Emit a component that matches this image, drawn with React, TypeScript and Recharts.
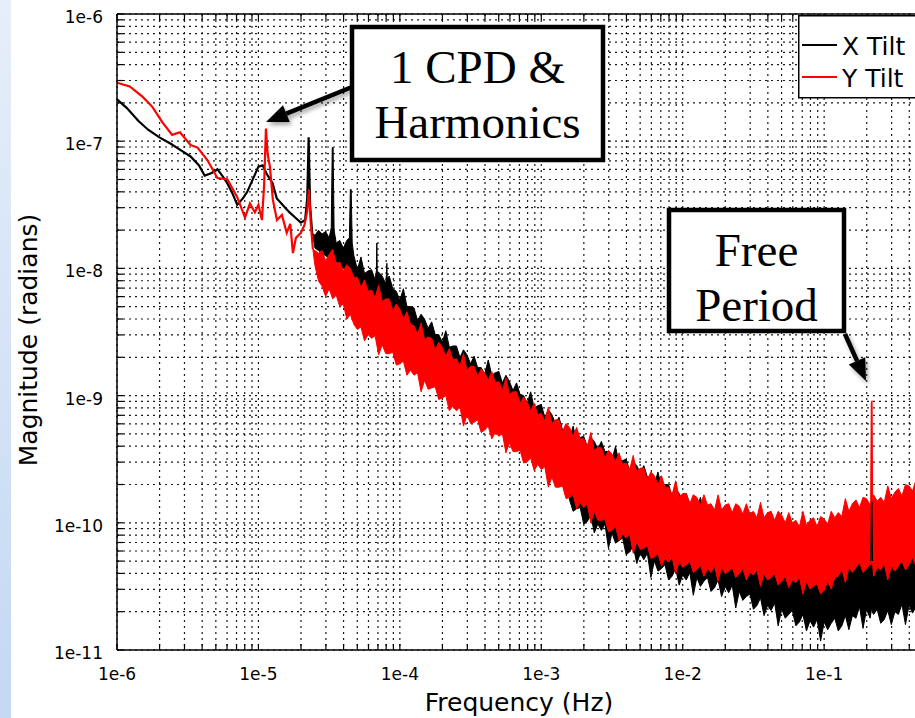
import React from 'react';
import { ComposedChart, Line, Area, XAxis, YAxis, CartesianGrid, Legend } from 'recharts';

// Low-frequency part of each spectrum: [log10 f (Hz), log10 magnitude (rad)]
const xTiltLow: [number, number][] = [
  [-6.0, -6.67], [-5.93, -6.74], [-5.85, -6.84], [-5.78, -6.91], [-5.7, -6.97], [-5.62, -7.02],
  [-5.55, -7.07], [-5.48, -7.12], [-5.42, -7.19], [-5.38, -7.27], [-5.33, -7.25], [-5.29, -7.22],
  [-5.25, -7.28], [-5.22, -7.33], [-5.18, -7.42], [-5.15, -7.5], [-5.11, -7.45], [-5.08, -7.4],
  [-5.04, -7.3], [-5.0, -7.2], [-4.97, -7.19], [-4.94, -7.26], [-4.9, -7.33], [-4.87, -7.45],
  [-4.83, -7.5], [-4.78, -7.56], [-4.74, -7.6], [-4.7, -7.64], [-4.67, -7.62], [-4.655, -7.45],
  [-4.645, -6.97], [-4.635, -7.5], [-4.62, -7.72],
];

const yTiltLow: [number, number][] = [
  [-6.0, -6.54], [-5.91, -6.57], [-5.82, -6.65], [-5.75, -6.73], [-5.68, -6.85], [-5.61, -6.95],
  [-5.555, -6.93], [-5.48, -7.03], [-5.43, -7.05], [-5.36, -7.15], [-5.29, -7.29], [-5.22, -7.3],
  [-5.15, -7.44], [-5.095, -7.6], [-5.06, -7.49], [-5.025, -7.56], [-5.0, -7.5], [-4.975, -7.62],
  [-4.96, -7.35], [-4.947, -6.9], [-4.935, -7.1], [-4.919, -7.2], [-4.898, -7.46], [-4.869, -7.62],
  [-4.834, -7.58], [-4.8, -7.72], [-4.775, -7.65], [-4.756, -7.88], [-4.735, -7.76], [-4.7, -7.72],
  [-4.675, -7.66], [-4.655, -7.55], [-4.643, -7.38], [-4.63, -7.65], [-4.615, -7.85],
];

// Past the 2 CPD line the traces turn into a dense noise band:
// [log10 f, log10 lower edge, log10 upper edge]
const xTiltBand: [number, number, number][] = [
  [-4.62, -7.72, -7.72], [-4.6, -7.84, -7.74], [-4.575, -7.86, -7.7], [-4.55, -7.88, -7.73],
  [-4.525, -7.9, -7.71], [-4.5, -7.92, -7.76], [-4.485, -7.92, -7.68], [-4.478, -7.92, -7.05],
  [-4.472, -7.92, -7.05], [-4.465, -7.93, -7.7], [-4.45, -7.95, -7.8], [-4.425, -7.97, -7.78],
  [-4.4, -8.0, -7.84], [-4.375, -8.02, -7.78], [-4.357, -8.05, -7.76], [-4.35, -8.05, -7.38],
  [-4.344, -8.05, -7.38], [-4.337, -8.06, -7.8], [-4.325, -8.08, -7.9],
  [-4.3, -8.39, -8.01], [-4.275, -8.42, -7.91], [-4.25, -8.44, -8.04], [-4.225, -8.46, -8.02],
  [-4.2, -8.47, -8.01], [-4.175, -8.5, -8.09], [-4.166, -8.51, -8.02], [-4.163, -8.51, -7.8],
  [-4.16, -8.51, -8.02], [-4.15, -8.52, -8.03], [-4.125, -8.55, -8.06], [-4.1, -8.57, -8.12],
  [-4.095, -8.58, -8.05], [-4.092, -8.58, -7.96], [-4.089, -8.58, -8.08], [-4.075, -8.6, -8.06],
  [-4.05, -8.62, -8.16], [-4.025, -8.64, -8.18], [-4.0, -8.66, -8.25], [-3.975, -8.69, -8.16],
  [-3.95, -8.71, -8.3], [-3.925, -8.74, -8.3], [-3.9, -8.76, -8.31], [-3.875, -8.79, -8.41],
  [-3.85, -8.81, -8.36], [-3.825, -8.83, -8.4], [-3.8, -8.85, -8.47], [-3.775, -8.87, -8.42],
  [-3.75, -8.89, -8.52], [-3.725, -8.91, -8.52], [-3.7, -8.93, -8.58], [-3.675, -8.96, -8.49],
  [-3.65, -8.99, -8.62], [-3.625, -9.02, -8.61], [-3.6, -9.04, -8.61], [-3.575, -9.06, -8.7],
  [-3.55, -9.08, -8.64], [-3.525, -9.1, -8.68], [-3.5, -9.12, -8.75], [-3.475, -9.14, -8.69],
  [-3.45, -9.15, -8.78], [-3.425, -9.17, -8.78], [-3.4, -9.18, -8.83], [-3.375, -9.2, -8.72],
  [-3.35, -9.21, -8.84], [-3.325, -9.23, -8.82], [-3.3, -9.24, -8.81], [-3.275, -9.27, -8.9],
  [-3.25, -9.29, -8.84], [-3.225, -9.32, -8.89], [-3.2, -9.34, -8.96], [-3.175, -9.37, -8.9],
  [-3.15, -9.39, -8.99], [-3.125, -9.41, -9.0], [-3.1, -9.43, -9.06], [-3.075, -9.45, -8.97],
  [-3.05, -9.46, -9.1], [-3.025, -9.48, -9.08], [-3.0, -9.5, -9.07], [-2.975, -9.53, -9.17],
  [-2.95, -9.56, -9.11], [-2.925, -9.59, -9.15], [-2.9, -9.62, -9.22], [-2.875, -9.65, -9.17],
  [-2.85, -9.67, -9.27], [-2.825, -9.69, -9.28], [-2.8, -9.82, -9.34], [-2.775, -9.91, -9.24],
  [-2.75, -9.89, -9.36], [-2.725, -9.88, -9.33], [-2.7, -10.01, -9.32], [-2.675, -9.99, -9.4],
  [-2.65, -9.94, -9.33], [-2.625, -10.08, -9.36], [-2.6, -10.01, -9.42], [-2.575, -10.06, -9.36],
  [-2.55, -10.01, -9.44], [-2.525, -10.2, -9.44], [-2.5, -10.08, -9.5], [-2.475, -10.16, -9.4],
  [-2.45, -10.14, -9.53], [-2.425, -10.12, -9.51], [-2.4, -10.25, -9.5], [-2.375, -10.23, -9.59],
  [-2.35, -10.18, -9.52], [-2.325, -10.32, -9.55], [-2.3, -10.24, -9.61], [-2.275, -10.29, -9.55],
  [-2.25, -10.24, -9.64], [-2.225, -10.43, -9.64], [-2.2, -10.3, -9.7], [-2.175, -10.38, -9.6],
  [-2.15, -10.36, -9.72], [-2.125, -10.33, -9.7], [-2.1, -10.45, -9.7], [-2.075, -10.42, -9.79],
  [-2.05, -10.36, -9.73], [-2.025, -10.49, -9.77], [-2.0, -10.41, -9.83], [-1.975, -10.45, -9.77],
  [-1.95, -10.39, -9.85], [-1.925, -10.57, -9.85], [-1.9, -10.43, -9.9], [-1.875, -10.5, -9.8],
  [-1.85, -10.46, -9.92], [-1.825, -10.43, -10.24], [-1.8, -10.54, -10.25], [-1.775, -10.51, -10.25],
  [-1.75, -10.45, -10.24], [-1.725, -10.58, -10.24], [-1.7, -10.5, -10.24], [-1.675, -10.55, -10.25],
  [-1.65, -10.49, -10.25], [-1.625, -10.67, -10.25], [-1.6, -10.54, -10.25], [-1.575, -10.61, -10.26],
  [-1.55, -10.58, -10.26], [-1.525, -10.56, -10.27], [-1.5, -10.68, -10.27], [-1.475, -10.65, -10.28],
  [-1.45, -10.59, -10.28], [-1.425, -10.73, -10.29], [-1.4, -10.65, -10.29], [-1.375, -10.69, -10.3],
  [-1.35, -10.63, -10.3], [-1.325, -10.81, -10.31], [-1.3, -10.68, -10.31], [-1.275, -10.75, -10.32],
  [-1.25, -10.72, -10.32], [-1.225, -10.69, -10.33], [-1.2, -10.81, -10.33], [-1.175, -10.78, -10.34],
  [-1.15, -10.72, -10.34], [-1.125, -10.85, -10.35], [-1.1, -10.77, -10.36], [-1.075, -10.82, -10.37],
  [-1.05, -10.76, -10.38], [-1.025, -10.93, -10.38], [-1.0, -10.78, -10.38], [-0.975, -10.84, -10.36],
  [-0.95, -10.79, -10.33], [-0.925, -10.75, -10.31], [-0.9, -10.85, -10.28], [-0.875, -10.81, -10.27],
  [-0.85, -10.73, -10.25], [-0.825, -10.84, -10.24], [-0.8, -10.73, -10.23], [-0.775, -10.75, -10.22],
  [-0.75, -10.66, -10.21], [-0.725, -10.83, -10.21], [-0.7, -10.68, -10.21], [-0.675, -10.75, -10.22],
  [-0.668, -10.7, -10.2], [-0.664, -10.66, -10.02], [-0.66, -10.7, -10.2], [-0.65, -10.72, -10.23],
  [-0.625, -10.68, -10.23], [-0.6, -10.79, -10.23], [-0.575, -10.76, -10.23], [-0.55, -10.69, -10.23],
  [-0.525, -10.8, -10.23], [-0.5, -10.7, -10.22], [-0.475, -10.72, -10.21], [-0.45, -10.64, -10.2],
  [-0.425, -10.8, -10.19], [-0.4, -10.65, -10.18], [-0.375, -10.71, -10.17], [-0.35, -10.66, -10.16],
  [-0.325, -10.62, -10.16], [-0.3, -10.72, -10.15],
];

const yTiltBand: [number, number, number][] = [
  [-4.615, -7.85, -7.85], [-4.6, -7.98, -7.86], [-4.575, -8.1, -7.88], [-4.55, -8.14, -7.86],
  [-4.525, -8.22, -7.94], [-4.5, -8.16, -7.89], [-4.475, -8.24, -7.85], [-4.45, -8.21, -7.96],
  [-4.425, -8.3, -7.95], [-4.4, -8.28, -8.02], [-4.375, -8.4, -7.97], [-4.35, -8.36, -8.0],
  [-4.325, -8.44, -8.07],
  [-4.3, -8.48, -8.07], [-4.275, -8.46, -8.15], [-4.25, -8.57, -8.09], [-4.225, -8.52, -8.18],
  [-4.2, -8.55, -8.17], [-4.175, -8.53, -8.23], [-4.15, -8.68, -8.13], [-4.125, -8.6, -8.26],
  [-4.1, -8.67, -8.24], [-4.075, -8.67, -8.24], [-4.05, -8.66, -8.33], [-4.025, -8.76, -8.28],
  [-4.0, -8.75, -8.32], [-3.975, -8.73, -8.4], [-3.95, -8.84, -8.34], [-3.925, -8.8, -8.44],
  [-3.9, -8.84, -8.45], [-3.875, -8.82, -8.52], [-3.85, -8.97, -8.43], [-3.825, -8.88, -8.56],
  [-3.8, -8.95, -8.54], [-3.775, -8.94, -8.55], [-3.75, -8.93, -8.64], [-3.725, -9.03, -8.58],
  [-3.7, -9.02, -8.62], [-3.675, -9.0, -8.69], [-3.65, -9.12, -8.63], [-3.625, -9.08, -8.72],
  [-3.6, -9.12, -8.71], [-3.575, -9.09, -8.77], [-3.55, -9.24, -8.67], [-3.525, -9.15, -8.8],
  [-3.5, -9.22, -8.77], [-3.475, -9.21, -8.77], [-3.45, -9.19, -8.85], [-3.425, -9.29, -8.79],
  [-3.4, -9.27, -8.82], [-3.375, -9.24, -8.88], [-3.35, -9.34, -8.81], [-3.325, -9.29, -8.9],
  [-3.3, -9.32, -8.89], [-3.275, -9.3, -8.96], [-3.25, -9.45, -8.86], [-3.225, -9.37, -8.99],
  [-3.2, -9.44, -8.97], [-3.175, -9.44, -8.97], [-3.15, -9.43, -9.06], [-3.125, -9.53, -9.01],
  [-3.1, -9.52, -9.05], [-3.075, -9.49, -9.12], [-3.05, -9.59, -9.06], [-3.025, -9.54, -9.15],
  [-3.0, -9.58, -9.14], [-2.975, -9.56, -9.2], [-2.95, -9.72, -9.09], [-2.925, -9.64, -9.22],
  [-2.9, -9.72, -9.19], [-2.875, -9.72, -9.19], [-2.85, -9.71, -9.28], [-2.825, -9.81, -9.22],
  [-2.8, -9.8, -9.25], [-2.775, -9.78, -9.32], [-2.75, -9.89, -9.25], [-2.725, -9.84, -9.34],
  [-2.7, -9.88, -9.34], [-2.675, -9.85, -9.4], [-2.65, -10.0, -9.29], [-2.625, -9.91, -9.43],
  [-2.6, -9.98, -9.41], [-2.575, -9.98, -9.41], [-2.55, -9.97, -9.49], [-2.525, -10.07, -9.43],
  [-2.5, -10.06, -9.46], [-2.475, -10.03, -9.52], [-2.45, -10.14, -9.45], [-2.425, -10.09, -9.54],
  [-2.4, -10.12, -9.53], [-2.375, -10.09, -9.58], [-2.35, -10.24, -9.47], [-2.325, -10.15, -9.6],
  [-2.3, -10.21, -9.57], [-2.275, -10.2, -9.57], [-2.25, -10.18, -9.66], [-2.225, -10.28, -9.6],
  [-2.2, -10.27, -9.63], [-2.175, -10.24, -9.7], [-2.15, -10.34, -9.63], [-2.125, -10.28, -9.72],
  [-2.1, -10.31, -9.72], [-2.075, -10.27, -9.78], [-2.05, -10.4, -9.67], [-2.025, -10.3, -9.8],
  [-2.0, -10.35, -9.77], [-1.975, -10.33, -9.77], [-1.95, -10.3, -9.85], [-1.925, -10.39, -9.78],
  [-1.9, -10.37, -9.8], [-1.875, -10.33, -9.86], [-1.85, -10.42, -9.78], [-1.825, -10.36, -9.86],
  [-1.8, -10.39, -9.85], [-1.775, -10.34, -9.9], [-1.75, -10.46, -9.78], [-1.725, -10.35, -9.9],
  [-1.7, -10.4, -9.86], [-1.675, -10.38, -9.85], [-1.65, -10.35, -9.92], [-1.625, -10.43, -9.85],
  [-1.6, -10.4, -9.87], [-1.575, -10.36, -9.93], [-1.55, -10.45, -9.85], [-1.525, -10.39, -9.93],
  [-1.5, -10.41, -9.91], [-1.475, -10.37, -9.96], [-1.45, -10.5, -9.84], [-1.425, -10.4, -9.96],
  [-1.4, -10.45, -9.92], [-1.375, -10.43, -9.91], [-1.35, -10.4, -9.98], [-1.325, -10.49, -9.91],
  [-1.3, -10.46, -9.94], [-1.275, -10.42, -10.0], [-1.25, -10.51, -9.92], [-1.225, -10.45, -10.0],
  [-1.2, -10.47, -9.98], [-1.175, -10.43, -10.03], [-1.15, -10.56, -9.91], [-1.125, -10.46, -10.02],
  [-1.1, -10.52, -9.98], [-1.075, -10.5, -9.96], [-1.05, -10.48, -10.03], [-1.025, -10.56, -9.95],
  [-1.0, -10.53, -9.97], [-0.975, -10.46, -10.01], [-0.95, -10.52, -9.91], [-0.925, -10.43, -9.96],
  [-0.9, -10.42, -9.92], [-0.875, -10.36, -9.95], [-0.85, -10.47, -9.81], [-0.825, -10.35, -9.91],
  [-0.8, -10.39, -9.85], [-0.775, -10.35, -9.82], [-0.75, -10.31, -9.88], [-0.725, -10.39, -9.8],
  [-0.7, -10.36, -9.81], [-0.675, -10.32, -9.86], [-0.671, -10.33, -9.84], [-0.667, -10.31, -9.06],
  [-0.661, -10.31, -9.04], [-0.657, -10.33, -9.84], [-0.65, -10.42, -9.78], [-0.625, -10.35, -9.83],
  [-0.6, -10.37, -9.8], [-0.575, -10.32, -9.84], [-0.55, -10.45, -9.71], [-0.525, -10.34, -9.81],
  [-0.5, -10.38, -9.76], [-0.475, -10.34, -9.73], [-0.45, -10.3, -9.79], [-0.425, -10.37, -9.7],
  [-0.4, -10.33, -9.71], [-0.375, -10.27, -9.75], [-0.35, -10.35, -9.66], [-0.325, -10.28, -9.72],
  [-0.3, -10.29, -9.69],
];

// X Tilt through the free-period line, drawn over the Y Tilt band
const xTiltFreePeriod: [number, number][] = [[-0.67, -10.3], [-0.665, -9.84], [-0.662, -9.84], [-0.658, -10.3]];

const xMajorTicks = [1e-6, 1e-5, 1e-4, 1e-3, 1e-2, 1e-1];
const xTickLabels = ['1e-6', '1e-5', '1e-4', '1e-3', '1e-2', '1e-1'];
const yMajorTicks = [1e-11, 1e-10, 1e-9, 1e-8, 1e-7, 1e-6];
const yTickLabels = ['1e-11', '1e-10', '1e-9', '1e-8', '1e-7', '1e-6'];

const X_DOMAIN: [number, number] = [1e-6, 0.5];
const Y_DOMAIN: [number, number] = [1e-11, 1e-6];

const AXIS_FONT = 'DejaVu Sans';

// 1..9 times every decade, up to the axis maximum
function decadeTicks(majors: number[], max: number) {
  const out: number[] = [];
  majors.forEach((m) => {
    for (let k = 1; k <= 9; k++) {
      const v = m * k;
      if (v <= max * 1.0000001) out.push(v);
    }
  });
  return out;
}

const xTicks = decadeTicks(xMajorTicks, X_DOMAIN[1]);
const yTicks = decadeTicks(yMajorTicks, Y_DOMAIN[1]);

const rows: any[] = [
  ...xTiltLow.map(([f, m]) => ({ f: 10 ** f, xLow: 10 ** m })),
  ...yTiltLow.map(([f, m]) => ({ f: 10 ** f, yLow: 10 ** m })),
  ...xTiltBand.map(([f, lo, hi]) => ({ f: 10 ** f, xBand: [10 ** lo, 10 ** hi] })),
  ...yTiltBand.map(([f, lo, hi]) => ({ f: 10 ** f, yBand: [10 ** lo, 10 ** hi] })),
  ...xTiltFreePeriod.map(([f, m]) => ({ f: 10 ** f, xPeak: 10 ** m })),
].sort((a, b) => a.f - b.f);

const BottomTick = (props: any) => {
  const { x, y, payload } = props;
  const i = xMajorTicks.indexOf(payload.value);
  return (
    <g>
      <line x1={x} x2={x} y1={y} y2={y - 6} stroke="#000" strokeWidth={1.2} />
      {i >= 0 && (
        <text x={x} y={y + 30} textAnchor="middle" fontFamily={AXIS_FONT} fontSize={17} fill="#000">
          {xTickLabels[i]}
        </text>
      )}
    </g>
  );
};

const TopTick = (props: any) => {
  const { x, y } = props;
  return <line x1={x} x2={x} y1={y} y2={y + 6} stroke="#000" strokeWidth={1.2} />;
};

const LeftTick = (props: any) => {
  const { x, y, payload } = props;
  const i = yMajorTicks.indexOf(payload.value);
  return (
    <g>
      <line x1={x} x2={x + 6} y1={y} y2={y} stroke="#000" strokeWidth={1.2} />
      {i >= 0 && (
        <text x={x - 14} y={y + 9} textAnchor="end" fontFamily={AXIS_FONT} fontSize={17} fill="#000">
          {yTickLabels[i]}
        </text>
      )}
    </g>
  );
};

const LegendBox = ({ payload }: any) => (
  <svg width={117} height={84} style={{ display: 'block' }}>
    <rect x={0.75} y={0.75} width={150} height={82} fill="#fff" stroke="#000" strokeWidth={1.5} />
    {(payload || []).map((p: any, i: number) => (
      <g key={p.value}>
        <line x1={4} x2={39} y1={30 + i * 32} y2={30 + i * 32} stroke={p.color} strokeWidth={2} />
        <text x={44} y={40 + i * 32} fontFamily={AXIS_FONT} fontSize={25} fill="#000">
          {p.value}
        </text>
      </g>
    ))}
  </svg>
);

function arrowHead(x1: number, y1: number, x2: number, y2: number, len = 22, half = 9) {
  const d = Math.hypot(x2 - x1, y2 - y1);
  const ux = (x2 - x1) / d;
  const uy = (y2 - y1) / d;
  const bx = x2 - ux * len;
  const by = y2 - uy * len;
  return {
    base: [bx, by],
    points: `${x2},${y2} ${bx - uy * half},${by + ux * half} ${bx + uy * half},${by - ux * half}`,
  };
}

const Arrow = ({ from, to }: { from: [number, number]; to: [number, number] }) => {
  const head = arrowHead(from[0], from[1], to[0], to[1]);
  return (
    <g filter="url(#calloutShadow)">
      <line x1={from[0]} y1={from[1]} x2={head.base[0]} y2={head.base[1]} stroke="#000" strokeWidth={4.5} />
      <polygon points={head.points} fill="#000" />
    </g>
  );
};

const Callout = ({ x, y, w, h, lines }: { x: number; y: number; w: number; h: number; lines: string[] }) => (
  <g>
    <rect x={x} y={y} width={w} height={h} fill="#fff" stroke="#000" strokeWidth={4.5} />
    {lines.map((t, i) => (
      <text
        key={t}
        x={x + w / 2}
        y={y + 56 + i * 55}
        textAnchor="middle"
        fontFamily="Liberation Serif, Times New Roman, serif"
        fontSize={47}
        fill="#000"
      >
        {t}
      </text>
    ))}
  </g>
);

export default function App() {
  return (
    <div
      style={{
        position: 'fixed',
        left: 0,
        top: 0,
        width: 915,
        height: 718,
        overflow: 'hidden',
        background: '#fff',
      }}
    >
      <div
        style={{
          position: 'absolute',
          left: 0,
          top: 0,
          width: 11,
          height: 718,
          background: 'linear-gradient(to bottom, #e6eef9, #c4d8f3)',
        }}
      />
      <div style={{ position: 'absolute', left: 0, top: 0 }}>
        <ComposedChart
          width={934}
          height={718}
          data={rows}
          margin={{ top: 13, right: 11, bottom: 28, left: 17 }}
        >
          <CartesianGrid
            stroke="#1a1a1a"
            strokeWidth={1.2}
            strokeDasharray="2 4"
            verticalValues={xTicks}
            horizontalValues={yTicks}
          />
          <XAxis
            dataKey="f"
            type="number"
            scale="log"
            domain={X_DOMAIN}
            allowDataOverflow
            ticks={xTicks}
            interval={0}
            tick={<BottomTick />}
            tickLine={false}
            tickSize={0}
            tickMargin={0}
            height={40}
            axisLine={{ stroke: '#000', strokeWidth: 1.5 }}
          />
          <XAxis
            xAxisId="top"
            orientation="top"
            dataKey="f"
            type="number"
            scale="log"
            domain={X_DOMAIN}
            allowDataOverflow
            ticks={xTicks}
            interval={0}
            tick={<TopTick />}
            tickLine={false}
            tickSize={0}
            tickMargin={0}
            height={1}
            axisLine={{ stroke: '#000', strokeWidth: 1.5 }}
          />
          <YAxis
            type="number"
            scale="log"
            domain={Y_DOMAIN}
            allowDataOverflow
            ticks={yTicks}
            interval={0}
            tick={<LeftTick />}
            tickLine={false}
            tickSize={0}
            tickMargin={0}
            width={100}
            axisLine={{ stroke: '#000', strokeWidth: 1.5 }}
          />
          <Area
            name="X Tilt"
            dataKey={(d: any) => d.xBand ?? [null, null]}
            type="linear"
            stroke="#000"
            strokeWidth={1}
            fill="#000"
            fillOpacity={1}
            connectNulls
            dot={false}
            activeDot={false}
            isAnimationActive={false}
          />
          <Line
            dataKey="xLow"
            type="linear"
            stroke="#000"
            strokeWidth={2.2}
            dot={false}
            connectNulls
            legendType="none"
            isAnimationActive={false}
          />
          <Area
            name="Y Tilt"
            dataKey={(d: any) => d.yBand ?? [null, null]}
            type="linear"
            stroke="#ff0000"
            strokeWidth={1}
            fill="#ff0000"
            fillOpacity={1}
            connectNulls
            dot={false}
            activeDot={false}
            isAnimationActive={false}
          />
          <Line
            dataKey="yLow"
            type="linear"
            stroke="#ff0000"
            strokeWidth={2.2}
            dot={false}
            connectNulls
            legendType="none"
            isAnimationActive={false}
          />
          <Line
            dataKey="xPeak"
            type="linear"
            stroke="#000"
            strokeWidth={1.2}
            dot={false}
            connectNulls
            legendType="none"
            isAnimationActive={false}
          />
          <Legend
            layout="horizontal"
            verticalAlign="middle"
            align="center"
            content={<LegendBox />}
            wrapperStyle={{ left: 798, top: 15, width: 117, height: 84 }}
          />
        </ComposedChart>
      </div>
      <svg
        width={915}
        height={718}
        style={{ position: 'absolute', left: 0, top: 0, pointerEvents: 'none' }}
      >
        <defs>
          <filter id="calloutShadow" x="-20%" y="-20%" width="140%" height="140%">
            <feDropShadow dx="2" dy="3" stdDeviation="2" floodColor="#000" floodOpacity="0.35" />
          </filter>
        </defs>
        <text x={519} y={711} textAnchor="middle" fontFamily={AXIS_FONT} fontSize={25} fill="#000">
          Frequency (Hz)
        </text>
        <text
          transform="translate(37,340) rotate(-90)"
          textAnchor="middle"
          fontFamily={AXIS_FONT}
          fontSize={25}
          fill="#000"
        >
          Magnitude (radians)
        </text>
        <Arrow from={[352, 87]} to={[266, 122]} />
        <Arrow from={[845, 334]} to={[866, 381]} />
        <Callout x={352} y={27} w={251} h={133} lines={['1 CPD &', 'Harmonics']} />
        <Callout x={669} y={210} w={175} h={121} lines={['Free', 'Period']} />
      </svg>
    </div>
  );
}
